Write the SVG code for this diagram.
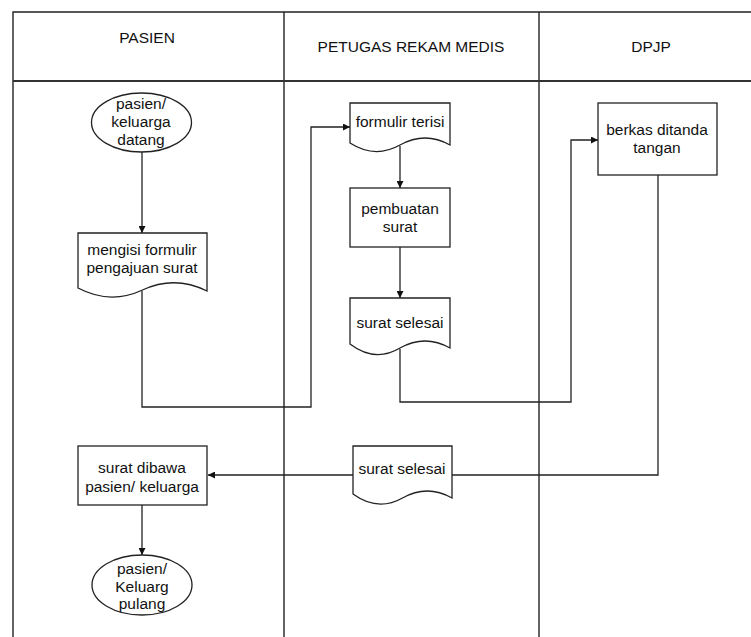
<svg xmlns="http://www.w3.org/2000/svg" width="751" height="637" viewBox="0 0 751 637">
<style>
.frame{stroke:#222;stroke-width:1.4;fill:none}
.hdr{stroke:#333;stroke-width:2.2;fill:none}
.shape{fill:#fff;stroke:#222;stroke-width:1.3}
.conn{fill:none;stroke:#222;stroke-width:1.3}
text{font-family:"Liberation Sans",Arial,sans-serif;font-size:15.5px;fill:#111;text-anchor:middle}
.h{font-size:15.5px}
</style>
<defs>
<marker id="ah" viewBox="0 0 10 10" refX="10" refY="5" markerWidth="8" markerHeight="7" markerUnits="userSpaceOnUse" orient="auto">
<path d="M0,0 L10,5 L0,10 z" fill="#111"/>
</marker>
</defs>
<rect x="0" y="0" width="751" height="637" fill="#fff"/>
<g id="frame">
<path class="frame" d="M13,637 V12 H751"/>
<path class="frame" d="M284,12 V637 M539,12 V637"/>
<path class="hdr" d="M13,81 H751"/>
<text class="h" x="147" y="43">PASIEN</text>
<text class="h" x="411" y="52">PETUGAS REKAM MEDIS</text>
<text class="h" x="651" y="52">DPJP</text>
</g>
<g id="connectors">
<path class="conn" d="M142,152 V233" marker-end="url(#ah)"/>
<path class="conn" d="M142,291 V407 H311 V127 H350" marker-end="url(#ah)"/>
<path class="conn" d="M400,146 V188" marker-end="url(#ah)"/>
<path class="conn" d="M400,247 V298" marker-end="url(#ah)"/>
<path class="conn" d="M400,349 V402 H571 V140 H598" marker-end="url(#ah)"/>
<path class="conn" d="M658,175 V475 H208" marker-end="url(#ah)"/>
<path class="conn" d="M142,505 V555" marker-end="url(#ah)"/>
</g>
<g id="n1">
<ellipse class="shape" cx="141.5" cy="122.5" rx="50" ry="29.5"/>
<text x="141" y="109">pasien/</text>
<text x="141" y="127">keluarga</text>
<text x="141" y="145">datang</text>
</g>
<g id="n2">
<path class="shape" d="M78,233 H207 V291 Q174.75,275 142.5,290 Q110.25,305 78,288 Z"/>
<text x="142" y="255">mengisi formulir</text>
<text x="142" y="273">pengajuan surat</text>
</g>
<g id="n3">
<path class="shape" d="M350,103 H450 V145 Q425,131 400,145 Q375,159 350,143 Z"/>
<text x="400" y="127">formulir terisi</text>
</g>
<g id="n4">
<rect class="shape" x="350" y="188" width="100" height="59"/>
<text x="400" y="214">pembuatan</text>
<text x="400" y="232">surat</text>
</g>
<g id="n5">
<path class="shape" d="M350,298 H450 V348 Q425,334 400,348 Q375,363 350,344 Z"/>
<text x="400" y="328">surat selesai</text>
</g>
<g id="n6">
<rect class="shape" x="598" y="103" width="119" height="72"/>
<text x="657" y="135">berkas ditanda</text>
<text x="657" y="153">tangan</text>
</g>
<g id="n7">
<path class="shape" d="M353,446 H452 V498 Q427.25,484 402.5,498 Q377.75,512 353,494 Z"/>
<text x="402" y="474">surat selesai</text>
</g>
<g id="n8">
<rect class="shape" x="78" y="446" width="129" height="59"/>
<text x="142" y="473">surat dibawa</text>
<text x="142" y="492">pasien/ keluarga</text>
</g>
<g id="n9">
<ellipse class="shape" cx="142" cy="585" rx="50" ry="30"/>
<text x="142" y="574">pasien/</text>
<text x="142" y="592">Keluarg</text>
<text x="142" y="609">pulang</text>
</g>
</svg>
